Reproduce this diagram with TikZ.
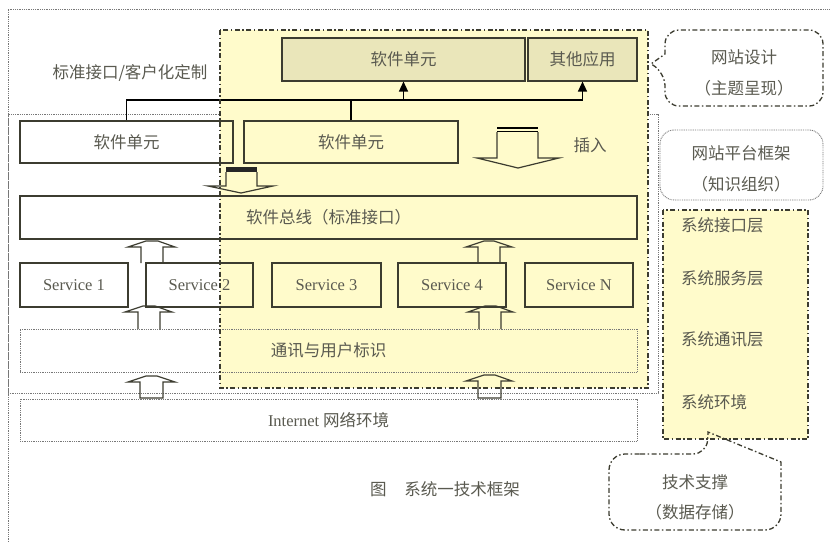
\documentclass[tikz,border=0pt]{standalone}
\usepackage{fontspec}
\setmainfont{Liberation Serif}
\newfontfamily\cjk{Noto Sans CJK SC}
\usetikzlibrary{arrows.meta,calc}
\definecolor{yel}{HTML}{FFFBCB}
\definecolor{boxfill}{HTML}{EAE6BA}
\definecolor{txt}{HTML}{5A5A50}
\definecolor{ln}{HTML}{3C3C30}
\definecolor{dotc}{HTML}{777777}
\tikzset{
  x=1pt, y=-1pt,
  cjkfont/.style={font=\cjk\fontsize{16.5}{19}\selectfont, text=txt},
  latfont/.style={font=\rmfamily\fontsize{16.5}{19}\selectfont, text=txt},
  bx/.style={draw=ln, line width=1.1pt, inner sep=0pt},
  dotbx/.style={draw=dotc, line width=0.9pt, dash pattern=on 0.9pt off 0.9pt, inner sep=0pt},
  dashdot/.style={draw=ln, line width=1.3pt, dash pattern=on 5pt off 2.5pt on 1.5pt off 2.5pt},
  dotline/.style={draw=dotc, line width=0.9pt, dash pattern=on 0.9pt off 0.9pt},
  blk/.style={draw=ln, line width=1.2pt},
  conn/.style={draw=black, line width=1.3pt},
  tri/.style={conn, -{Triangle[width=9pt,length=10pt]}},
  lbl/.style={cjkfont, inner sep=0pt},
}
\begin{document}
\begin{tikzpicture}
\useasboundingbox (0,0) rectangle (830,542);
\fill[white] (0,0) rectangle (830,542);

% outer frames
\draw[dotline] (8,542) -- (8,9) -- (830,9);
\draw[dotline] (8,114) rectangle (658,393);

% yellow region fill
\fill[yel] (220,30) rectangle (648,388);
\fill[yel] (663,210) rectangle (808,439);

% top boxes
\node[bx, fill=boxfill, minimum width=243pt, minimum height=43pt, cjkfont] (topsw) at (403.5,59.5) {软件单元};
\node[bx, fill=boxfill, minimum width=109pt, minimum height=43pt, cjkfont] (other) at (582.5,59.5) {其他应用};

% middle units
\node[bx, minimum width=213pt, minimum height=42pt, cjkfont] (sw1) at (126.5,142) {软件单元};
\node[bx, minimum width=214pt, minimum height=42pt, cjkfont] (sw2) at (351,142) {软件单元};

% connectors
\coordinate (jn) at (0,100);
\draw[tri] (sw1.north) -- (sw1.north |- jn) -| (other.south);
\draw[conn] (sw2.north) -- (sw2.north |- jn);
\draw[tri] (topsw.south |- jn) -- (topsw.south);

% bus
\node[bx, minimum width=617pt, minimum height=43pt, cjkfont] (bus) at (328.5,217.5) {软件总线（标准接口）};

% services
\node[bx, minimum width=108pt, minimum height=44pt, latfont] (s1) at (74,285) {Service 1};
\node[bx, minimum width=107pt, minimum height=44pt, latfont] (s2) at (199.5,285) {Service 2};
\node[bx, minimum width=109pt, minimum height=44pt, latfont] (s3) at (326.5,285) {Service 3};
\node[bx, minimum width=108pt, minimum height=44pt, latfont] (s4) at (452,285) {Service 4};
\node[bx, minimum width=108pt, minimum height=44pt, latfont] (sN) at (579,285) {Service N};

% comm and internet
\node[dotbx, minimum width=617pt, minimum height=43pt, cjkfont] (comm) at (328.5,350.5) {通讯与用户标识};
\node[dotbx, minimum width=617pt, minimum height=42pt, cjkfont] (inet) at (328.5,420) {{\rmfamily Internet} 网络环境};

% up block arrows
\draw[blk] (141,263) -- (141,247) -- (128,247) -- (146,241) -- (158,241) -- (175,247) -- (163,247) -- (163,263);
\draw[blk] (138,329) -- (138,312) -- (125,312) -- (143,306) -- (155,306) -- (172,312) -- (160,312) -- (160,329);
\draw[blk] (478,263) -- (478,247) -- (466,247) -- (484,241) -- (494,241) -- (512,247) -- (500,247) -- (500,263);
\draw[blk] (479,329) -- (479,312) -- (468,312) -- (485,306) -- (496,306) -- (513,312) -- (501,312) -- (501,329);
\draw[blk] (140,398) -- (140,382) -- (128,382) -- (146,376) -- (157,376) -- (175,382) -- (163,382) -- (163,398) -- cycle;
\draw[blk] (478,398) -- (478,381) -- (466,381) -- (484,375) -- (495,375) -- (512,381) -- (501,381) -- (501,398) -- cycle;

% insert arrows
\fill[black!85] (226,167) rectangle (257,172);
\draw[blk] (226,172) -- (226,186) -- (208,186) -- (241,193) -- (273,186) -- (257,186) -- (257,172);
\draw[black, line width=1.5pt] (497,128) -- (538,128);
\draw[black, line width=1.5pt] (497,131.5) -- (538,131.5);
\draw[blk] (497,132) -- (497,158) -- (477,158) -- (518,168) -- (559,158) -- (538,158) -- (538,132);
\node[lbl] (ins) at (590,145) {插入};

% yellow region border (on top)
\draw[dashdot] (220,30) rectangle (648,388);

% label
\node[lbl] (std) at (130,73) {标准接口/客户化定制};

% right side: callout 1
\draw[dashdot, rounded corners=14pt] (700,30) -- (823,30) -- (823,106) -- (665,106) -- (665,72) [sharp corners] -- (651,64) -- (665,54) [rounded corners=14pt] -- (665,30) -- (700,30);
\node[lbl] (c1a) at (744,57) {网站设计};
\node[lbl] (c1b) at (744,88) {（主题呈现）};

% callout 2
\draw[dotline, rounded corners=14pt] (660,130) rectangle (823,200);
\node[lbl] (c2a) at (741,153) {网站平台框架};
\node[lbl] (c2b) at (741,184) {（知识组织）};

% system layers
\draw[dashdot] (663,210) rectangle (808,439);
\node[lbl, anchor=west] (l1) at (681,225) {系统接口层};
\node[lbl, anchor=west] (l2) at (681,278) {系统服务层};
\node[lbl, anchor=west] (l3) at (681,339) {系统通讯层};
\node[lbl, anchor=west] (l4) at (681,402) {系统环境};

% callout 3
\draw[dashdot, rounded corners=14pt] (640,454) -- (707,454) [sharp corners] -- (708,432) -- (781,462) [rounded corners=16pt] -- (781,530) -- (609,530) -- (609,454) -- (640,454);
\node[lbl] (c3a) at (695,482) {技术支撑};
\node[lbl] (c3b) at (695,512) {（数据存储）};

% caption
\node[lbl] (cap) at (445,489) {图\hspace{18pt}系统一技术框架};
\end{tikzpicture}
\end{document}
